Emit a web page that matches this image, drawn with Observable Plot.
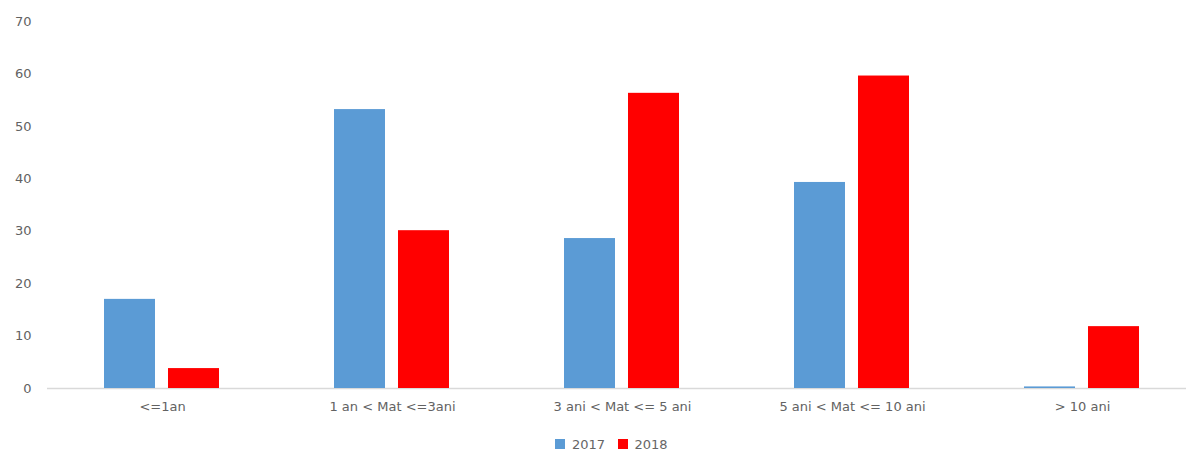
<!DOCTYPE html>
<html>
<head>
<meta charset="utf-8">
<script src="https://cdn.jsdelivr.net/npm/d3@7"></script>
<script src="https://cdn.jsdelivr.net/npm/@observablehq/plot@0.6"></script>
<style>
  html, body { margin: 0; padding: 0; background: #fff; }
  #chart { width: 1186px; font-family: "DejaVu Sans", sans-serif; }
  #chart svg { display: block; }
  #legend { display: flex; justify-content: center; margin-top: 11px; padding-left: 50px; }
  #legend > div { font-family: "DejaVu Sans", sans-serif !important; font-size: 13px !important; color: #666 !important; min-height: 16px; }
</style>
</head>
<body>
<div id="chart"></div>
<script>
// Maturity buckets on the horizontal axis
const categories = ["<=1an", "1 an < Mat <=3ani", "3 ani < Mat <= 5 ani", "5 ani < Mat <= 10 ani", "> 10 ani"];
// Series
const years = ["2017", "2018"];
const values2017 = [17, 53.2, 28.6, 39.3, 0.3];
const values2018 = [3.8, 30.1, 56.3, 59.6, 11.8];
const yTicks = [0, 10, 20, 30, 40, 50, 60, 70];
const colors = ["#5b9bd5", "#ff0000"];

const data = categories.flatMap((c, i) => [
  {category: c, year: years[0], value: values2017[i]},
  {category: c, year: years[1], value: values2018[i]}
]);

const chart = Plot.plot({
  width: 1186,
  height: 425,
  marginTop: 21,
  marginBottom: 37,
  marginLeft: 45,
  marginRight: -12,
  style: {fontFamily: "DejaVu Sans, sans-serif", fontSize: "13px", color: "#626262", background: "#fff"},
  fx: {domain: categories, paddingInner: 0, paddingOuter: 0, axis: "bottom", tickSize: 0, tickPadding: 13, label: null},
  x: {domain: years, axis: null, paddingInner: 0.2, paddingOuter: 0.873},
  y: {domain: [0, 70], ticks: yTicks, tickSize: 0, tickPadding: 16, label: null},
  color: {domain: years, range: colors},
  marks: [
    Plot.ruleY([0], {stroke: "#d9d9d9", strokeWidth: 1.5}),
    Plot.barY(data, {fx: "category", x: "year", y: "value", fill: "year", inset: 0})
  ]
});

const root = document.getElementById("chart");
root.appendChild(chart);

const legendWrap = document.createElement("div");
legendWrap.id = "legend";
legendWrap.appendChild(chart.legend("color", {swatchSize: 10}));
root.appendChild(legendWrap);
</script>
</body>
</html>
